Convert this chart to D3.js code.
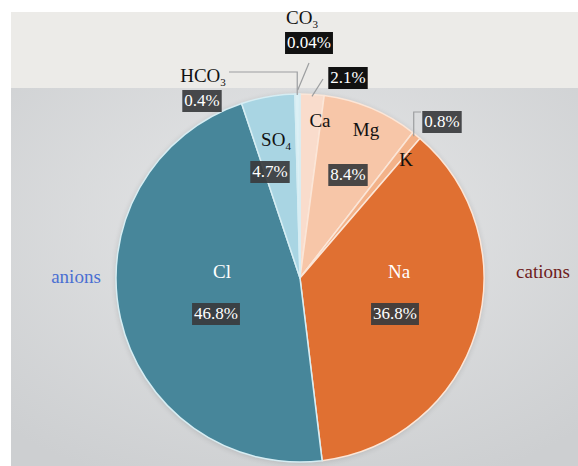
<!DOCTYPE html>
<html>
<head>
<meta charset="utf-8">
<script src="https://cdn.jsdelivr.net/npm/d3@7"></script>
<style>
  body { margin: 0; background: #fff; }
</style>
</head>
<body>
<div id="viz"></div>
<script>
// ion shares, clockwise from 12 o'clock
var ions = ["Ca", "Mg", "K", "Na", "Cl", "SO4", "HCO3", "CO3"];
var shares = [2.1, 8.4, 0.8, 36.8, 46.8, 4.7, 0.4, 0.04];
var shareLabels = ["2.1%", "8.4%", "0.8%", "36.8%", "46.8%", "4.7%", "0.4%", "0.04%"];
var ionGroup = ["cations", "cations", "cations", "cations", "anions", "anions", "anions", "anions"];
var groupNames = ["anions", "cations"];

var W = 578, H = 466;
var cx = 300, cy = 278, r = 184;
var serif = "'Liberation Serif', 'Times New Roman', serif";

var colors = d3.scaleOrdinal()
  .domain(ions)
  .range(["#f9dccc", "#f7c6a8", "#f3b289", "#e07032", "#47869a", "#a9d5e3", "#dcf0f5", "#e8f4f7"]);

var svg = d3.select("#viz").append("svg")
  .attr("width", W).attr("height", H)
  .attr("font-family", serif);

var defs = svg.append("defs");
var bg = defs.append("radialGradient").attr("id", "bg")
  .attr("cx", 0.5).attr("cy", 0.35).attr("r", 0.75);
bg.append("stop").attr("offset", "0%").attr("stop-color", "#e6e7e8");
bg.append("stop").attr("offset", "100%").attr("stop-color", "#cdcfd1");

var sh = defs.append("filter").attr("id", "shadow")
  .attr("x", "-10%").attr("y", "-10%").attr("width", "120%").attr("height", "120%");
sh.append("feGaussianBlur").attr("in", "SourceAlpha").attr("stdDeviation", 3);
sh.append("feOffset").attr("dx", 0).attr("dy", 1).attr("result", "b");
sh.append("feComponentTransfer").append("feFuncA").attr("type", "linear").attr("slope", 0.25);
var mg = sh.append("feMerge");
mg.append("feMergeNode");
mg.append("feMergeNode").attr("in", "SourceGraphic");

// backdrop
svg.append("rect").attr("x", 11).attr("y", 88).attr("width", W - 11).attr("height", H - 88)
  .attr("fill", "url(#bg)");
svg.append("rect").attr("x", 11).attr("y", 12).attr("width", W - 11).attr("height", 76)
  .attr("fill", "#ecebe8");

var pie = d3.pie().sort(null).value(function(d) { return d; });
var arcs = pie(shares);
var arc = d3.arc().innerRadius(0).outerRadius(r);

var g = svg.append("g").attr("transform", "translate(" + cx + "," + cy + ")");

g.append("circle").attr("r", r).attr("fill", "#e07032").attr("filter", "url(#shadow)").attr("opacity", 0.6);

g.selectAll("path.slice")
  .data(arcs)
  .enter().append("path")
  .attr("class", "slice")
  .attr("d", arc)
  .attr("fill", function(d, i) { return colors(ions[i]); })
  .attr("stroke", function(d, i) { return ionGroup[i] == "cations" ? "#fbe6d8" : "#d6edf3"; })
  .attr("stroke-width", 1.5)
  .attr("stroke-linejoin", "round");

function edgePoint(i, rr) {
  var a = (arcs[i].startAngle + arcs[i].endAngle) / 2;
  return [cx + rr * Math.sin(a), cy - rr * Math.cos(a)];
}

// label layout: name position, value box position, box style
var layout = {
  "Ca":   { name: [320, 127], val: [348, 83], dark: true },
  "Mg":   { name: [366, 136], val: [348, 180] },
  "K":    { name: [406, 166], val: [442, 127] },
  "Na":   { name: [399, 278], val: [395, 319] },
  "Cl":   { name: [222, 278], val: [216, 319] },
  "SO4":  { name: [276, 146], val: [270, 177] },
  "HCO3": { name: [203, 82],  val: [202, 106] },
  "CO3":  { name: [302, 24],  val: [309, 48], dark: true }
};

// leader lines
var lead = svg.append("g").attr("fill", "none").attr("stroke", "#9c9ea0").attr("stroke-width", 1.2);
var pH = edgePoint(6, r - 1);
lead.append("polyline").attr("points", [[229, 72], [pH[0], 72], [pH[0], pH[1]]].join(" "));
var pC = edgePoint(7, r + 4);
lead.append("line").attr("x1", pC[0] - 2).attr("y1", pC[1]).attr("x2", 309).attr("y2", 63);
var pA = edgePoint(0, r - 2);
lead.append("line").attr("x1", pA[0]).attr("y1", pA[1]).attr("x2", 323).attr("y2", 79);
var pK = edgePoint(2, r - 1);
lead.append("polyline").attr("points", [[pK[0] - 2, pK[1]], [pK[0] - 2, 112], [421, 112]].join(" "));

function ionText(sel, name) {
  var m = name.match(/^([A-Za-z]+?)(\d)?$/);
  sel.append("tspan").text(m[1]);
  if (m[2]) sel.append("tspan").attr("font-size", 11).attr("dy", 4).text(m[2]);
}

ions.forEach(function(name, i) {
  var L = layout[name];
  var t = svg.append("text")
    .attr("x", L.name[0]).attr("y", L.name[1])
    .attr("text-anchor", "middle")
    .attr("font-size", 19)
    .attr("fill", (name == "Na" || name == "Cl") ? "#ffffff" : "#111111");
  ionText(t, name);

  var vg = svg.append("g");
  var vt = vg.append("text")
    .attr("x", L.val[0]).attr("y", L.val[1])
    .attr("text-anchor", "middle")
    .attr("font-size", 17)
    .attr("textLength", null)
    .attr("fill", "#ffffff")
    .text(shareLabels[i]);
  var bb = vt.node().getBBox();
  vg.insert("rect", "text")
    .attr("x", bb.x - 2).attr("y", bb.y - 1)
    .attr("width", bb.width + 4).attr("height", bb.height + 3)
    .attr("fill", L.dark ? "#111111" : "#3a3b3d")
    .attr("opacity", L.dark ? 1 : 0.92);
});

// group captions
svg.selectAll("text.group")
  .data(groupNames)
  .enter().append("text")
  .attr("class", "group")
  .attr("x", function(d) { return d == "anions" ? 76 : 543; })
  .attr("y", function(d) { return d == "anions" ? 283 : 278; })
  .attr("text-anchor", "middle")
  .attr("font-size", 19)
  .attr("fill", function(d) { return d == "anions" ? "#4a6fd2" : "#6e1c1c"; })
  .text(function(d) { return d; });
</script>
</body>
</html>
